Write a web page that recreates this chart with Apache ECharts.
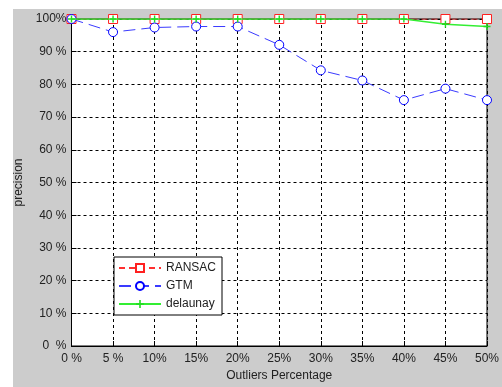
<!DOCTYPE html>
<html><head><meta charset="utf-8">
<script src="https://cdn.jsdelivr.net/npm/echarts@6/dist/echarts.min.js"></script>
<style>html,body{margin:0;padding:0;background:#fff}#c{width:502px;height:387px}</style>
</head><body><div id="c"></div>
<script>
const categories = ['0 %','5 %','10%','15%','20%','25%','30%','35%','40%','45%','50%'];
const yTickLabels = ['0  %','10 %','20 %','30 %','40 %','50 %','60 %','70 %','80 %','90 %','100%'];
const ransac = [100,100,100,100,100,100,100,100,100,100,100];
const gtm = [100,96,97.4,97.7,97.7,92.1,84.3,81.2,75.2,78.7,75.2];
const delaunay = [100,100,100,100,100,100,100,100,100,98.4,97.7];

const chart = echarts.init(document.getElementById('c'));
const font = 'Liberation Sans, Arial, sans-serif';
const starPath = 'path://M4,0 L6,0 L6,4 L10,4 L10,6 L6,6 L6,10 L4,10 L4,6 L0,6 L0,4 L4,4 Z';
chart.setOption({
  animation: false,
  backgroundColor: '#fff',
  textStyle: {fontFamily: font},
  graphic: [{type:'rect', z:-10, shape:{x:13,y:9,width:489,height:378}, style:{fill:'#cccccc'}}],
  grid: {left:71.5, right:11, top:19, bottom:37, show:true, backgroundColor:'#fff', borderColor:'#000', borderWidth:1},
  xAxis: {
    type:'category', data: categories, boundaryGap:false,
    name:'Outliers Percentage', nameLocation:'middle', nameGap:24,
    nameTextStyle:{color:'#222', fontSize:12, fontFamily:font},
    axisLine:{lineStyle:{color:'#000'}},
    axisTick:{show:true, inside:true, length:5, lineStyle:{color:'#000'}},
    axisLabel:{color:'#222', fontSize:12, margin:7, fontFamily:font},
    splitLine:{show:true, lineStyle:{color:'#000', type:[3,3], width:1}}
  },
  yAxis: {
    type:'value', min:0, max:100, interval:10,
    name:'precision', nameLocation:'middle', nameGap:44,
    nameTextStyle:{color:'#222', fontSize:12, fontFamily:font},
    axisLine:{show:true, lineStyle:{color:'#000'}},
    axisTick:{show:true, inside:true, length:5, lineStyle:{color:'#000'}},
    axisLabel:{color:'#222', fontSize:12, margin:5, fontFamily:font,
      formatter: (v) => yTickLabels[Math.round(v/10)]},
    splitLine:{show:true, lineStyle:{color:'#000', type:[3,3], width:1}}
  },
  legend: {
    orient:'vertical', left:114, top:257, padding:[5,6,5,4],
    backgroundColor:'#fff', borderColor:'#000', borderWidth:1,
    itemWidth:42, itemHeight:10, itemGap:6,
    textStyle:{color:'#222', fontSize:12, fontFamily:font},
    data:['RANSAC','GTM','delaunay']
  },
  series: [
    {name:'RANSAC', type:'line', data:ransac, symbol:'rect', symbolSize:9, showAllSymbol:true,
     lineStyle:{color:'#ff3030', width:1, type:[6,4]},
     itemStyle:{color:'#fff', borderColor:'#ff2020', borderWidth:1}, z:2},
    {name:'GTM', type:'line', data:gtm, symbol:'circle', symbolSize:9, showAllSymbol:true,
     lineStyle:{color:'#3a3aff', width:1, type:[12,6]},
     itemStyle:{color:'#fff', borderColor:'#0000ff', borderWidth:1}, z:3},
    {name:'delaunay', type:'line', data:delaunay, symbol:starPath, symbolSize:7, showAllSymbol:true,
     lineStyle:{color:'#33ee33', width:1.5},
     itemStyle:{color:'#22dd22'}, z:4}
  ]
});
</script></body></html>
